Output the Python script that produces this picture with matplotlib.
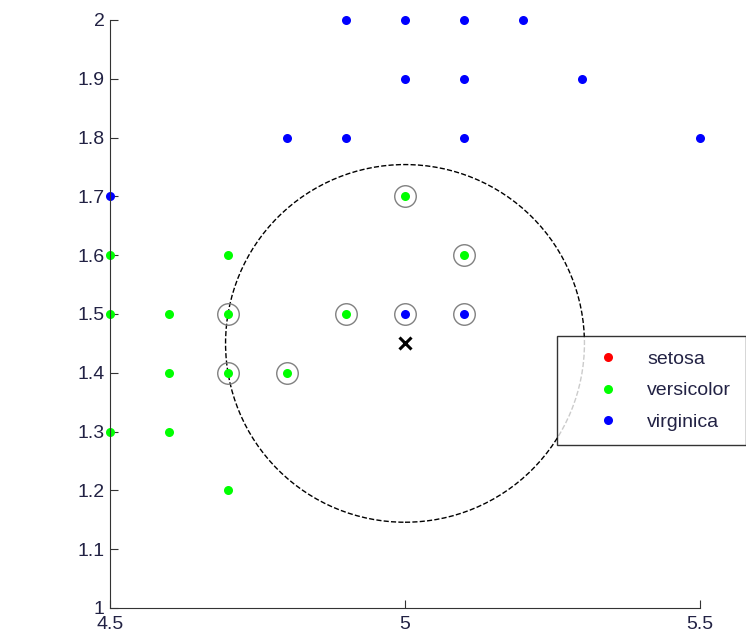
import matplotlib.pyplot as plt
from matplotlib.patches import Circle

plt.rcParams['font.family'] = ['Liberation Sans', 'DejaVu Sans']

# iris points (petal width vs petal length window)
versicolor_x = [5.0, 5.1, 4.5, 4.7, 4.5, 4.6, 4.7, 4.9, 4.6, 4.7, 4.8, 4.5, 4.6, 4.7]
versicolor_y = [1.7, 1.6, 1.6, 1.6, 1.5, 1.5, 1.5, 1.5, 1.4, 1.4, 1.4, 1.3, 1.3, 1.2]
virginica_x = [4.9, 5.0, 5.1, 5.2, 5.0, 5.1, 5.3, 4.8, 4.9, 5.1, 5.5, 4.5, 5.0, 5.1]
virginica_y = [2.0, 2.0, 2.0, 2.0, 1.9, 1.9, 1.9, 1.8, 1.8, 1.8, 1.8, 1.7, 1.5, 1.5]
setosa_x = []
setosa_y = []

# query point and its nearest neighbours
query = (5.0, 1.45)
nb_x = [4.7, 4.7, 4.8, 4.9, 5.0, 5.1, 5.0, 5.1]
nb_y = [1.5, 1.4, 1.4, 1.5, 1.5, 1.5, 1.7, 1.6]

fig = plt.figure(figsize=(7.46, 6.38), dpi=100)
ax = fig.add_axes([110/746, 30/638, 590/746, 588/638])

ax.plot(setosa_x, setosa_y, 'o', color='red', ms=6.5, mec='none', label='setosa', clip_on=False)
ax.plot(versicolor_x, versicolor_y, 'o', color='#00ff00', ms=6.5, mec='none', label='versicolor', clip_on=False)
ax.plot(virginica_x, virginica_y, 'o', color='blue', ms=6.5, mec='none', label='virginica', clip_on=False)

ax.plot(nb_x, nb_y, 'o', mfc='none', mec='#808080', ms=15.5, mew=1.0, clip_on=False)
ax.plot(query[0], query[1], 'x', color='black', ms=9, mew=2.2)

r = max(((x - query[0])**2 + (y - query[1])**2) ** 0.5 for x, y in zip(nb_x, nb_y))
ax.add_patch(Circle(query, r, fill=False, ls='--', lw=1.0, color='black'))

ax.set_xlim(4.5, 5.5)
ax.set_ylim(1, 2)
ax.set_xticks([4.5, 5, 5.5])
ax.set_xticklabels(['4.5', '5', '5.5'])
ax.set_yticks([1 + 0.1*i for i in range(11)])
ax.set_yticklabels(['1', '1.1', '1.2', '1.3', '1.4', '1.5', '1.6', '1.7', '1.8', '1.9', '2'])
ax.tick_params(direction='in', length=6, labelsize=14, pad=4, colors='#333333', labelcolor='#222244')
ax.tick_params(axis='x', pad=6)
ax.spines['top'].set_visible(False)
ax.spines['right'].set_visible(False)
for s in ['left', 'bottom']:
    ax.spines[s].set_color('#333333')

leg = ax.legend(loc='upper left', bbox_to_anchor=(557/746, 1 - 336/638), bbox_transform=fig.transFigure,
                frameon=True, fancybox=False, fontsize=14, borderpad=0.75, labelspacing=0.7,
                handletextpad=0.2, handlelength=3.7, borderaxespad=0)
leg.get_frame().set_edgecolor('black')
leg.get_frame().set_linewidth(1.0)
for t in leg.get_texts():
    t.set_color('#222244')

fig.savefig('out.png', dpi=100)
